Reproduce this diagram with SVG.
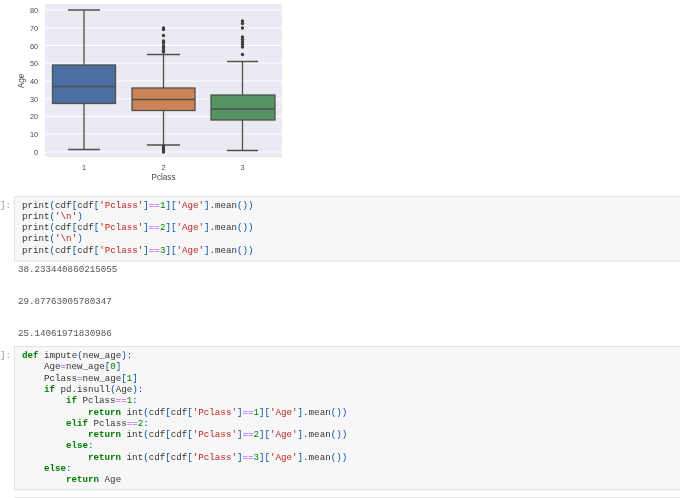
<svg xmlns="http://www.w3.org/2000/svg" width="680" height="498" viewBox="0 0 680 498">
<style>
.tick{font-family:"Liberation Sans",Arial,sans-serif;font-size:7.4px;fill:#4a4a4a;text-anchor:middle}
.lab{font-family:"Liberation Sans",Arial,sans-serif;font-size:8.2px;fill:#4a4a4a;text-anchor:middle}
.c{font-family:"Liberation Mono","Courier New",monospace;font-size:9.2px;fill:#333;white-space:pre}
.o{fill:#555}
.b{fill:#0055aa}.s{fill:#ba2121}.p{fill:#aa22ff}.n{fill:#008000}.k{fill:#008000;font-weight:bold}
.grid{stroke:#fff;stroke-width:1}
.line{stroke:#505050;stroke-width:1.3;fill:none}
.box{stroke:#505050;stroke-width:1.3}
.fl{fill:#3c3c3c}
.cell{fill:#f7f7f7;stroke:#e2e2e2;stroke-width:1}
</style>
<defs><filter id="soft" x="-5%" y="-5%" width="110%" height="110%"><feGaussianBlur stdDeviation="0.4"/></filter></defs>
<rect width="680" height="498" fill="#fff"/>
<g id="chart" filter="url(#soft)">
<rect x="45" y="4" width="237" height="153" fill="#eaeaf2"/>
<g>
<path class="grid" d="M45 10H282M45 28H282M45 45.500H282M45 63H282M45 81H282M45 99H282M45 116.500H282M45 134H282M45 152H282"/>
</g>
<g class="tick">
<text x="34" y="13">80</text><text x="34" y="31">70</text><text x="34" y="48.500">60</text><text x="34" y="66">50</text><text x="34" y="84">40</text><text x="34" y="101.500">30</text><text x="34" y="119">20</text><text x="34" y="137">10</text><text x="36" y="155">0</text>
<text x="84" y="170">1</text><text x="163.500" y="170">2</text><text x="242.500" y="170">3</text>
</g>
<text class="lab" x="163.500" y="180">Pclass</text>
<text class="lab" transform="translate(24 81) rotate(-90)">Age</text>
<g id="box1">
<path class="line" d="M84 65V10M68 10H100M84 103.500V149.500M68 149.500H100"/>
<rect class="box" x="52.500" y="65" width="63" height="38.500" fill="#4c6ea3"/>
<path class="line" d="M52.500 86.500H115.500"/>
</g>
<g id="box2">
<path class="line" d="M163.500 88V54.500M147 54.500H180M163.500 110.500V145M147 145H180"/>
<rect class="box" x="132" y="88" width="63" height="22.500" fill="#cc8355"/>
<path class="line" d="M132 99.500H195"/>
<g class="fl"><circle cx="163.500" cy="28" r="1.700"/><circle cx="163.500" cy="29.500" r="1.700"/><circle cx="163.500" cy="35.500" r="1.700"/><circle cx="163.500" cy="41" r="1.700"/><circle cx="163.500" cy="43" r="1.700"/><circle cx="163.500" cy="46" r="1.700"/><circle cx="163.500" cy="48" r="1.700"/><circle cx="163.500" cy="50.500" r="1.700"/><circle cx="163.500" cy="52" r="1.700"/><circle cx="163.500" cy="146" r="1.700"/><circle cx="163.500" cy="148" r="1.700"/><circle cx="163.500" cy="150" r="1.700"/><circle cx="163.500" cy="152" r="1.700"/></g>
</g>
<g id="box3">
<path class="line" d="M242.500 95V61.500M227 61.500H258M242.500 120V150.500M227 150.500H258"/>
<rect class="box" x="211" y="95" width="64" height="25" fill="#559463"/>
<path class="line" d="M211 109H275"/>
<g class="fl"><circle cx="242.500" cy="21" r="1.700"/><circle cx="242.500" cy="23.500" r="1.700"/><circle cx="242.500" cy="28" r="1.700"/><circle cx="242.500" cy="37" r="1.700"/><circle cx="242.500" cy="39.500" r="1.700"/><circle cx="242.500" cy="42" r="1.700"/><circle cx="242.500" cy="44.500" r="1.700"/><circle cx="242.500" cy="47" r="1.700"/><circle cx="242.500" cy="54.500" r="1.700"/></g>
</g>
</g>
<g id="cell1" filter="url(#soft)">
<rect class="cell" x="14.500" y="196.500" width="670" height="64.500"/>
<text class="c" x="0" y="208" style="fill:#999">]:</text>
<text class="c" x="22" y="208">print<tspan class="b">(</tspan>cdf<tspan class="b">[</tspan>cdf<tspan class="b">[</tspan><tspan class="s">'Pclass'</tspan><tspan class="b">]</tspan><tspan class="p">==</tspan><tspan class="n">1</tspan><tspan class="b">][</tspan><tspan class="s">'Age'</tspan><tspan class="b">]</tspan>.mean<tspan class="b">())</tspan></text>
<text class="c" x="22" y="219">print<tspan class="b">(</tspan><tspan class="s">'\n'</tspan><tspan class="b">)</tspan></text>
<text class="c" x="22" y="230">print<tspan class="b">(</tspan>cdf<tspan class="b">[</tspan>cdf<tspan class="b">[</tspan><tspan class="s">'Pclass'</tspan><tspan class="b">]</tspan><tspan class="p">==</tspan><tspan class="n">2</tspan><tspan class="b">][</tspan><tspan class="s">'Age'</tspan><tspan class="b">]</tspan>.mean<tspan class="b">())</tspan></text>
<text class="c" x="22" y="241">print<tspan class="b">(</tspan><tspan class="s">'\n'</tspan><tspan class="b">)</tspan></text>
<text class="c" x="22" y="253">print<tspan class="b">(</tspan>cdf<tspan class="b">[</tspan>cdf<tspan class="b">[</tspan><tspan class="s">'Pclass'</tspan><tspan class="b">]</tspan><tspan class="p">==</tspan><tspan class="n">3</tspan><tspan class="b">][</tspan><tspan class="s">'Age'</tspan><tspan class="b">]</tspan>.mean<tspan class="b">())</tspan></text>
</g>
<g id="output1" filter="url(#soft)">
<text class="c o" x="18" y="271.500">38.233440860215055</text>
<text class="c o" x="18" y="303.500">29.87763005780347</text>
<text class="c o" x="18" y="335.500">25.14061971830986</text>
</g>
<g id="cell2" filter="url(#soft)">
<rect class="cell" x="14.500" y="346.500" width="670" height="143.500"/>
<text class="c" x="0" y="358" style="fill:#999">]:</text>
<text class="c" x="22" y="358"><tspan class="k">def</tspan> impute<tspan class="b">(</tspan>new_age<tspan class="b">):</tspan></text>
<text class="c" x="44" y="369.300">Age<tspan class="p">=</tspan>new_age<tspan class="b">[</tspan><tspan class="n">0</tspan><tspan class="b">]</tspan></text>
<text class="c" x="44" y="380.600">Pclass<tspan class="p">=</tspan>new_age<tspan class="b">[</tspan><tspan class="n">1</tspan><tspan class="b">]</tspan></text>
<text class="c" x="44" y="391.900"><tspan class="k">if</tspan> pd.isnull<tspan class="b">(</tspan>Age<tspan class="b">):</tspan></text>
<text class="c" x="66" y="403.200"><tspan class="k">if</tspan> Pclass<tspan class="p">==</tspan><tspan class="n">1</tspan><tspan class="b">:</tspan></text>
<text class="c" x="88" y="414.500"><tspan class="k">return</tspan> int<tspan class="b">(</tspan>cdf<tspan class="b">[</tspan>cdf<tspan class="b">[</tspan><tspan class="s">'Pclass'</tspan><tspan class="b">]</tspan><tspan class="p">==</tspan><tspan class="n">1</tspan><tspan class="b">][</tspan><tspan class="s">'Age'</tspan><tspan class="b">]</tspan>.mean<tspan class="b">())</tspan></text>
<text class="c" x="66" y="425.800"><tspan class="k">elif</tspan> Pclass<tspan class="p">==</tspan><tspan class="n">2</tspan><tspan class="b">:</tspan></text>
<text class="c" x="88" y="437.100"><tspan class="k">return</tspan> int<tspan class="b">(</tspan>cdf<tspan class="b">[</tspan>cdf<tspan class="b">[</tspan><tspan class="s">'Pclass'</tspan><tspan class="b">]</tspan><tspan class="p">==</tspan><tspan class="n">2</tspan><tspan class="b">][</tspan><tspan class="s">'Age'</tspan><tspan class="b">]</tspan>.mean<tspan class="b">())</tspan></text>
<text class="c" x="66" y="448.400"><tspan class="k">else</tspan><tspan class="b">:</tspan></text>
<text class="c" x="88" y="459.700"><tspan class="k">return</tspan> int<tspan class="b">(</tspan>cdf<tspan class="b">[</tspan>cdf<tspan class="b">[</tspan><tspan class="s">'Pclass'</tspan><tspan class="b">]</tspan><tspan class="p">==</tspan><tspan class="n">3</tspan><tspan class="b">][</tspan><tspan class="s">'Age'</tspan><tspan class="b">]</tspan>.mean<tspan class="b">())</tspan></text>
<text class="c" x="44" y="471"><tspan class="k">else</tspan><tspan class="b">:</tspan></text>
<text class="c" x="66" y="482.300"><tspan class="k">return</tspan> Age</text>
</g>
<rect id="cell3" x="14.500" y="497.500" width="670" height="4" fill="#f7f7f7" stroke="#e2e2e2"/>
</svg>
